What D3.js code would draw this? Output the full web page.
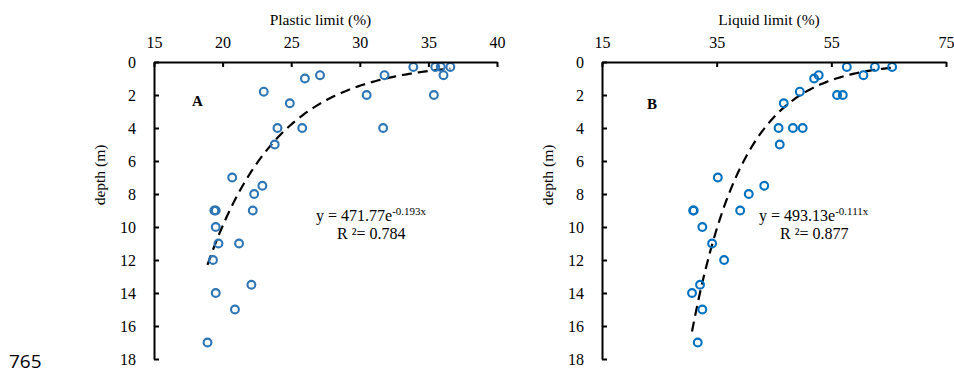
<!DOCTYPE html>
<html>
<script src="https://d3js.org/d3.v7.min.js"></script>
<style>
    body {
        margin: 0;
        background: white;
    }

    text {
        font-family: "Liberation Serif", "Times New Roman", serif;
        fill: black;
    }

    .axis path,
    .axis line {
        stroke: black;
        stroke-width: 2;
    }

    .axis text {
        font-family: "Liberation Serif", "Times New Roman", serif;
        font-size: 16px;
    }
</style>

<body onload='init()'>
    <svg width=954 height=374></svg>
    <script>
        // Panel A: plastic limit vs depth
        const plasticLimit = [33.9, 35.5, 35.9, 36.6, 36.1, 31.8, 27.1, 26.0, 23.0, 30.5, 35.4, 24.9, 24.0, 25.8, 31.7,
            23.8, 20.7, 22.9, 22.3, 19.4, 19.5, 22.2, 19.5, 19.7, 21.2, 19.3, 22.1, 19.5, 20.9, 18.9];
        const plasticDepth = [0.3, 0.3, 0.3, 0.3, 0.8, 0.8, 0.8, 1.0, 1.8, 2.0, 2.0, 2.5, 4, 4, 4,
            5, 7, 7.5, 8, 9, 9, 9, 10, 11, 11, 12, 13.5, 14, 15, 17];

        // Panel B: liquid limit vs depth
        const liquidLimit = [57.7, 62.6, 65.6, 60.6, 52.8, 52.0, 49.5, 56.0, 57.0, 46.7, 45.8, 48.3, 50.0, 46.0,
            35.2, 43.3, 40.6, 30.9, 31.0, 39.1, 32.5, 34.2, 36.3, 32.1, 30.7, 32.5, 31.7];
        const liquidDepth = [0.3, 0.3, 0.3, 0.8, 0.8, 1.0, 1.8, 2.0, 2.0, 2.5, 4, 4, 4, 5,
            7, 7.5, 8, 9, 9, 9, 10, 11, 12, 13.5, 14, 15, 17];

        // exponential trendlines as printed on the chart: depth = a * e^(b * x), R2
        const plasticFit = [471.77, -0.193, 0.784];
        const liquidFit = [493.13, -0.111, 0.877];

        const plasticTicks = [15, 20, 25, 30, 35, 40];
        const liquidTicks = [15, 35, 55, 75];
        const depthTicks = [0, 2, 4, 6, 8, 10, 12, 14, 16, 18];

        function panel(svg, opt) {
            var x = d3.scaleLinear().domain(opt.xDomain).range([opt.left, opt.right]);
            var y = d3.scaleLinear().domain([0, 18]).range([62, 359]);

            // trendline over the data range
            var xs = opt.xVals;
            var lo = d3.min(xs), hi = d3.max(xs);
            var pts = d3.range(0, 101).map(function (i) {
                var v = lo + (hi - lo) * i / 100;
                return [v, opt.fit[0] * Math.exp(opt.fit[1] * v)];
            });
            svg.append('path')
                .datum(pts)
                .attr('fill', 'none')
                .attr('stroke', 'black')
                .attr('stroke-width', 2.2)
                .attr('stroke-dasharray', '10,6')
                .attr('d', d3.line().x(function (d) { return x(d[0]); }).y(function (d) { return y(d[1]); }));

            svg.append('g')
                .selectAll('circle')
                .data(xs.map(function (v, i) { return [v, opt.yVals[i]]; }))
                .enter()
                .append('circle')
                .attr('cx', function (d) { return x(d[0]); })
                .attr('cy', function (d) { return y(d[1]); })
                .attr('r', 3.9)
                .attr('fill', 'none')
                .attr('stroke', opt.color)
                .attr('stroke-width', 2.1);

            svg.append('g').attr('class', 'axis')
                .attr('transform', 'translate(0,' + y(0) + ')')
                .call(d3.axisTop(x).tickValues(opt.ticks).tickSizeInner(-5).tickSizeOuter(0).tickPadding(14));

            svg.append('g').attr('class', 'axis')
                .attr('transform', 'translate(' + opt.left + ',0)')
                .call(d3.axisLeft(y).tickValues(depthTicks).tickSizeInner(-5).tickSizeOuter(0).tickPadding(18));

            svg.append('text')
                .attr('text-anchor', 'middle')
                .attr('x', (opt.left + opt.right) / 2 - 5)
                .attr('y', 25)
                .style('font-size', '15.5px')
                .text(opt.title);

            svg.append('text')
                .attr('text-anchor', 'middle')
                .attr('transform', 'translate(' + (opt.left - 49) + ',175) rotate(-90)')
                .style('font-size', '15.5px')
                .text('depth (m)');

            svg.append('text')
                .attr('x', opt.labelX)
                .attr('y', opt.labelY)
                .style('font-size', '15px')
                .style('font-weight', 'bold')
                .text(opt.label);

            var eq = svg.append('text')
                .attr('x', opt.eqX)
                .attr('y', 221)
                .style('font-size', '16px');
            eq.append('tspan').text('y = ' + opt.fit[0].toFixed(2) + 'e');
            eq.append('tspan').attr('dy', -6).style('font-size', '11px').text(opt.fit[1].toFixed(3) + 'x');

            svg.append('text')
                .attr('x', opt.eqX + 21)
                .attr('y', 239)
                .style('font-size', '16px')
                .text('R ²= ' + opt.fit[2].toFixed(3));
        }

        function init() {
            var svg = d3.select('svg');

            svg.append('rect').attr('width', 954).attr('height', 374).attr('fill', 'white');

            panel(svg, {
                xDomain: [15, 40], left: 154, right: 497, ticks: plasticTicks,
                xVals: plasticLimit, yVals: plasticDepth, fit: plasticFit, color: '#2E75B6',
                title: 'Plastic limit (%)', label: 'A', labelX: 192, labelY: 106, eqX: 316
            });

            panel(svg, {
                xDomain: [15, 75], left: 602, right: 946, ticks: liquidTicks,
                xVals: liquidLimit, yVals: liquidDepth, fit: liquidFit, color: '#0070C0',
                title: 'Liquid limit (%)', label: 'B', labelX: 647, labelY: 109, eqX: 759
            });

            // page line number from the source document
            svg.append('text')
                .attr('x', 9)
                .attr('y', 368)
                .style('font-family', '"Open Sans", "Liberation Sans", sans-serif')
                .style('font-size', '19px')
                .text('765');
        }
    </script>
</body>

</html>
